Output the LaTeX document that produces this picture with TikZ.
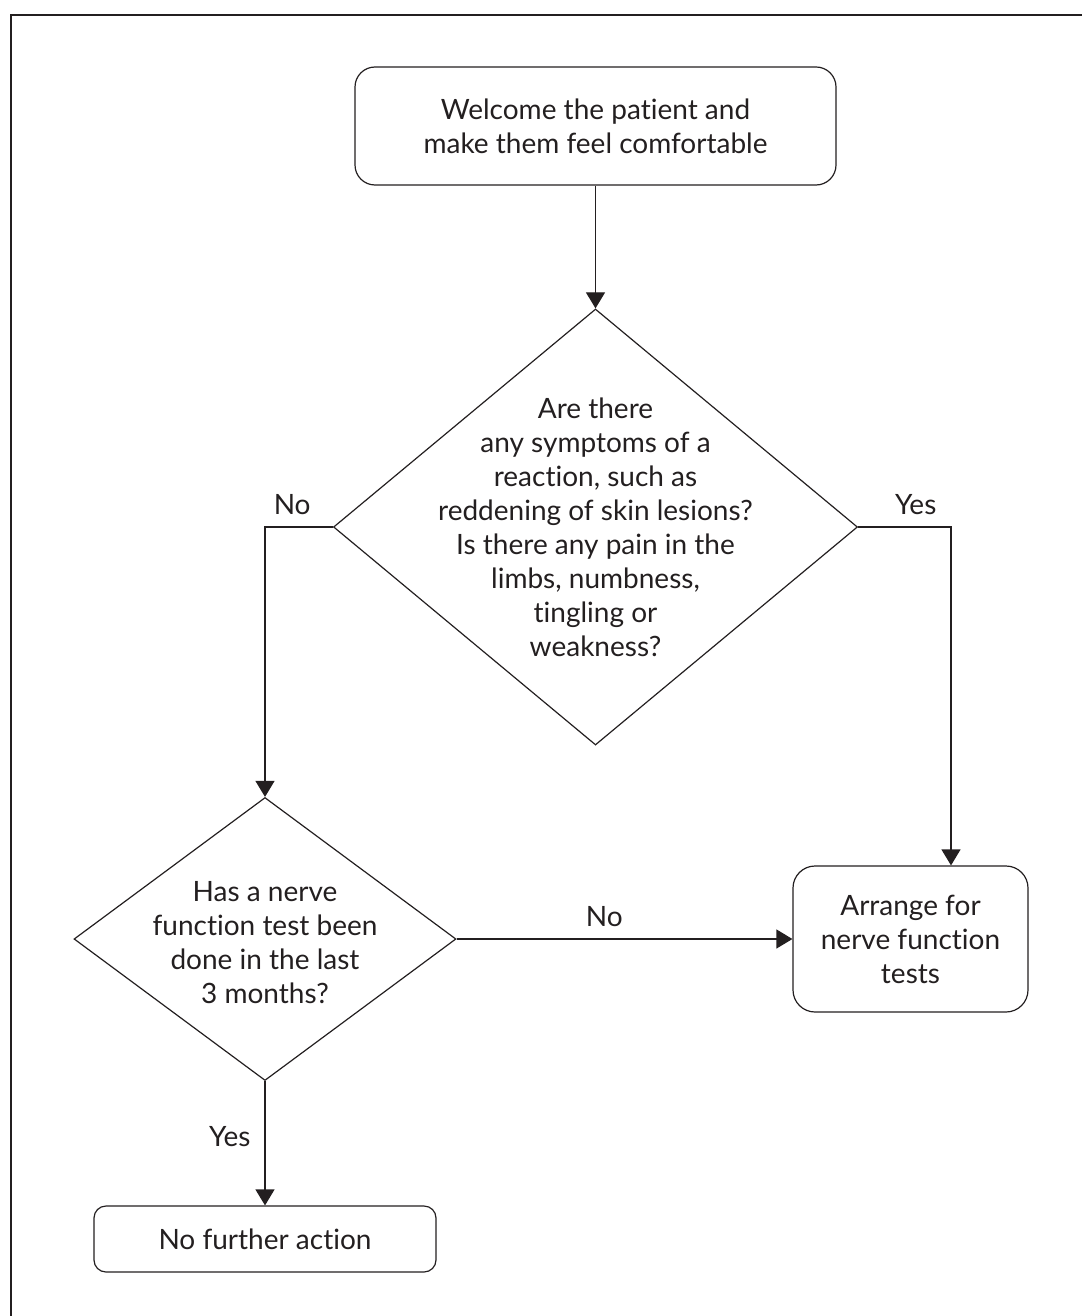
\documentclass[tikz,border=0pt]{standalone}
\usepackage{fontspec}
\setmainfont{Lato}[Ligatures=NoCommon]
\usepackage{tikz}
\usetikzlibrary{arrows.meta,shapes.geometric}
\definecolor{ink}{HTML}{231F20}

\begin{document}
\begin{tikzpicture}[x=0.5pt,y=-0.5pt,>={Triangle[length=8pt,width=9.5pt]},
    every node/.style={font=\fontsize{14}{17}\selectfont, text=ink},
    process/.style={draw=ink, line width=0.6pt, rounded corners=10pt, align=center},
    decision/.style={draw=ink, line width=0.6pt, diamond, inner sep=0pt},
    question/.style={align=center, inner sep=0pt},
    answer/.style={inner sep=0pt},
    elbow/.style={to path={-| (\tikztotarget) \tikztonodes}}]
  \useasboundingbox (0,0) rectangle (1082,1316);
  \draw[ink, line width=0.7pt] (11,1316) |- (1082,15);

  \node[process, minimum width=240.5pt, minimum height=59pt] (welcome) at (595.5,126)
       {Welcome the patient and\\make them feel comfortable};
  \node[decision, minimum width=262pt, minimum height=218pt] (q1)
       [node distance=200.5pt, below of=welcome] {};
  \node[question] (q1text) at (q1)
       {Are there\\any symptoms of a\\reaction, such as\\reddening of skin lesions?\\
        Is there any pain in the\\limbs, numbness,\\tingling or\\weakness?};
  \node[decision, minimum width=191pt, minimum height=141.5pt] (q2) at (265,939) {};
  \node[question] (q2text) at ([yshift=-2pt]q2)
       {Has a nerve\\function test been\\done in the last\\3 months?};
  \node[process, rounded corners=11pt, minimum width=117.5pt, minimum height=73pt] (arrange)
       [node distance=322.75pt, right of=q2] {Arrange for\\nerve function\\tests};
  \node[process, rounded corners=6pt, minimum width=171pt, minimum height=33pt] (none)
       [node distance=150pt, below of=q2] {No further action};

  \draw[ink, line width=0.6pt, every edge/.append style={->}]
      (welcome) edge (q1)
      (q1.west) edge[elbow] node[answer, pos=0.3, above=6pt] {No} (q2.north)
      (q1.east) edge[elbow] node[answer, pos=0.31, above=6pt] {Yes} ([xshift=20.25pt]arrange.north)
      (q2.east) edge node[answer, pos=0.44, above=6pt] {No} (arrange.west)
      (q2.south) edge node[answer, pos=0.45, left=7pt] {Yes} (none.north);
\end{tikzpicture}
\end{document}
